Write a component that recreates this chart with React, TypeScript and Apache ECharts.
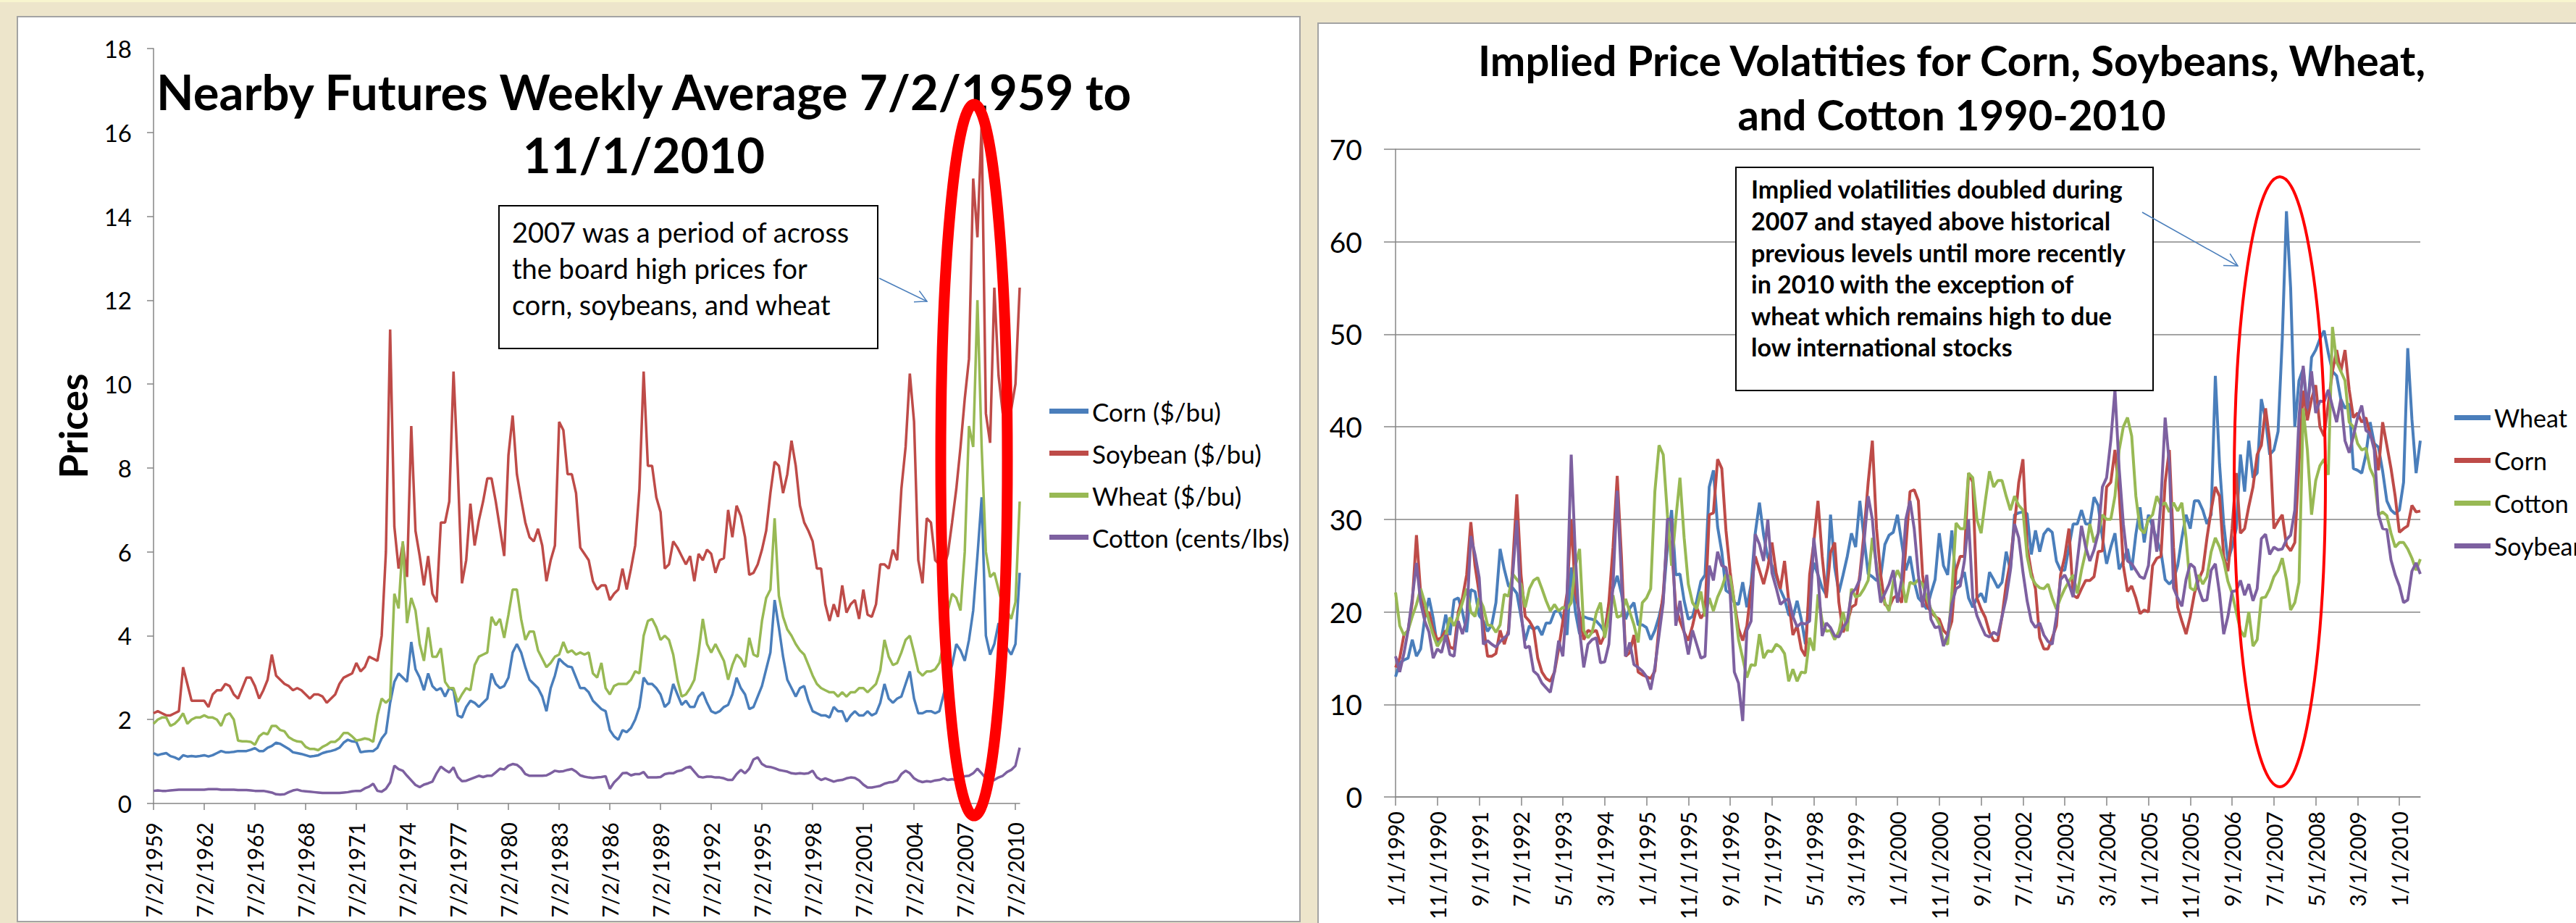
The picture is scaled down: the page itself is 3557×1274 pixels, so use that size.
import React, { useEffect, useRef } from "react";
import * as echarts from "echarts";

const FONT = "Lato";

// ---------- Left chart: nearby futures, quarterly readings from 7/2/1959 ----------
const futTickYears = [1959, 1962, 1965, 1968, 1971, 1974, 1977, 1980, 1983, 1986, 1989, 1992, 1995, 1998, 2001, 2004, 2007, 2010];

const futCorn = [
  1.2, 1.15, 1.18, 1.2, 1.13, 1.1, 1.05, 1.15, 1.12, 1.13,
  1.12, 1.13, 1.15, 1.12, 1.15, 1.2, 1.25, 1.22, 1.22, 1.23,
  1.25, 1.25, 1.25, 1.28, 1.32, 1.25, 1.25, 1.33, 1.37, 1.45,
  1.42, 1.36, 1.3, 1.22, 1.2, 1.18, 1.15, 1.12, 1.13, 1.15,
  1.2, 1.23, 1.25, 1.28, 1.33, 1.45, 1.52, 1.48, 1.47, 1.22,
  1.24, 1.25, 1.25, 1.33, 1.55, 1.68, 2.4, 2.9, 3.1, 3.0,
  2.9, 3.85, 3.2, 3.0, 2.7, 3.1, 2.8, 2.7, 2.75, 2.55,
  2.75, 2.7, 2.1, 2.05, 2.3, 2.45, 2.4, 2.3, 2.4, 2.5,
  3.1, 2.85, 2.75, 2.8, 3.0, 3.6, 3.8, 3.6, 3.25, 2.95,
  2.85, 2.75, 2.55, 2.2, 2.75, 3.05, 3.45, 3.35, 3.27, 3.25,
  3.0, 2.75, 2.75, 2.65, 2.45, 2.35, 2.25, 2.2, 1.75, 1.6,
  1.52, 1.75, 1.7, 1.8, 2.0, 2.3, 3.0, 2.85, 2.85, 2.75,
  2.6, 2.3, 2.4, 2.85, 2.6, 2.35, 2.45, 2.3, 2.3, 2.55,
  2.65, 2.4, 2.2, 2.15, 2.2, 2.3, 2.35, 2.6, 3.0, 2.75,
  2.6, 2.25, 2.3, 2.55, 2.8, 3.2, 3.6, 4.85, 4.2, 3.5,
  2.95, 2.75, 2.55, 2.75, 2.8, 2.45, 2.2, 2.15, 2.1, 2.1,
  2.05, 2.3, 2.2, 2.2, 1.95, 2.1, 2.2, 2.1, 2.1, 2.2,
  2.1, 2.15, 2.4, 2.85, 2.5, 2.4, 2.5, 2.55, 2.85, 3.15,
  2.5, 2.15, 2.15, 2.2, 2.2, 2.15, 2.2, 2.6, 3.0, 3.3,
  3.8, 3.65, 3.4, 3.9, 4.6, 5.9, 7.3, 4.0, 3.55, 3.8,
  4.3, 3.9, 3.7, 3.55, 3.8, 5.5,
];

const futSoy = [
  2.15, 2.2, 2.15, 2.1, 2.1, 2.15, 2.2, 3.25, 2.85, 2.45,
  2.45, 2.45, 2.45, 2.3, 2.6, 2.7, 2.7, 2.85, 2.8, 2.6,
  2.5, 2.75, 3.0, 3.0, 2.8, 2.5, 2.7, 2.95, 3.55, 3.05,
  2.95, 2.85, 2.8, 2.7, 2.75, 2.7, 2.6, 2.5, 2.6, 2.6,
  2.55, 2.4, 2.5, 2.6, 2.85, 3.0, 3.05, 3.1, 3.35, 3.15,
  3.25, 3.5, 3.45, 3.4, 4.0, 6.0, 11.3, 6.6, 5.6, 6.2,
  5.4, 9.0, 6.5, 5.9, 5.2, 5.9, 5.0, 4.8, 6.7, 6.7,
  7.2, 10.3, 8.0, 5.25, 5.8, 7.15, 6.15, 6.75, 7.2, 7.75,
  7.75, 7.2, 6.55, 5.9, 8.3, 9.25, 7.85, 7.25, 6.7, 6.35,
  6.25, 6.55, 6.15, 5.3, 5.8, 6.15, 9.1, 8.9, 7.85, 7.85,
  7.4, 6.1, 5.95, 5.8, 5.3, 5.1, 5.2, 5.2, 4.85, 5.0,
  5.1, 5.6, 5.1, 5.6, 6.15, 7.5, 10.3, 8.05, 8.05, 7.3,
  6.95, 5.6, 5.7, 6.25, 6.1, 5.9, 5.7, 5.9, 5.3, 5.95,
  5.8, 6.05, 5.95, 5.5, 5.8, 5.85, 7.0, 6.35, 7.1, 6.85,
  6.35, 5.45, 5.5, 5.7, 6.05, 6.5, 7.4, 8.15, 8.05, 7.4,
  7.85, 8.65, 8.05, 7.1, 6.7, 6.5, 6.25, 5.6, 5.6, 4.75,
  4.35, 4.75, 4.45, 5.2, 4.55, 4.75, 4.85, 4.4, 5.1, 4.5,
  4.45, 4.75, 5.7, 5.7, 5.6, 6.05, 5.8, 7.5, 8.5, 10.25,
  9.1, 5.8, 5.25, 6.8, 6.7, 5.8, 5.7, 5.6, 5.95, 6.7,
  7.5, 8.5, 9.65, 10.6, 14.9, 13.5, 16.2, 9.3, 8.6, 12.3,
  10.2, 9.3, 9.6, 9.4, 10.0, 12.3,
];

const futWheat = [
  1.9, 2.0, 2.05, 2.05, 1.85, 1.9, 2.0, 2.15, 1.9, 2.0,
  2.05, 2.05, 2.1, 2.05, 2.05, 2.0, 1.85, 2.1, 2.15, 2.0,
  1.5, 1.48, 1.48, 1.47, 1.4, 1.6, 1.68, 1.65, 1.85, 1.85,
  1.75, 1.72, 1.58, 1.52, 1.48, 1.47, 1.35, 1.3, 1.3, 1.27,
  1.35, 1.4, 1.47, 1.47, 1.55, 1.68, 1.68, 1.6, 1.5, 1.52,
  1.55, 1.53, 1.47, 2.1, 2.5, 2.4, 2.5, 5.0, 4.65, 6.25,
  4.3, 4.9, 4.6, 3.8, 3.4, 4.2, 3.5, 3.5, 3.7, 2.9,
  2.75, 2.75, 2.42, 2.6, 2.75, 2.7, 3.3, 3.5, 3.55, 3.6,
  4.45, 4.25, 4.4, 3.95, 4.5, 5.1, 5.1, 4.4, 3.9, 4.1,
  4.1, 3.65, 3.45, 3.25, 3.35, 3.5, 3.55, 3.85, 3.6, 3.65,
  3.55, 3.6, 3.55, 3.6, 3.1, 3.0, 3.35, 2.75, 2.6, 2.8,
  2.85, 2.85, 2.85, 2.95, 3.15, 3.1, 4.0, 4.35, 4.4, 4.2,
  3.9, 4.0, 3.9, 3.55, 2.95, 2.55, 2.6, 2.75, 2.95, 3.6,
  4.4, 3.8, 3.6, 3.8, 3.6, 3.4, 2.95, 3.3, 3.55, 3.45,
  3.25, 3.95, 3.55, 3.5, 4.35, 4.9, 5.1, 6.8, 4.95, 4.45,
  4.15, 4.0, 3.8, 3.65, 3.55, 3.3, 3.05, 2.85, 2.75, 2.7,
  2.65, 2.65, 2.55, 2.65, 2.55, 2.65, 2.65, 2.75, 2.75, 2.65,
  2.75, 2.85, 3.17, 3.9, 3.5, 3.3, 3.35, 3.6, 3.9, 4.0,
  3.6, 3.15, 3.05, 3.15, 3.15, 3.2, 3.35, 3.8, 4.6, 5.0,
  4.9, 4.6, 6.0, 9.0, 8.5, 12.0, 8.5, 6.0, 5.4, 5.5,
  5.1, 4.7, 4.6, 4.4, 4.8, 7.2,
];

const futCotton = [
  0.3, 0.31, 0.3, 0.3, 0.31, 0.32, 0.33, 0.33, 0.33, 0.33,
  0.33, 0.33, 0.33, 0.34, 0.34, 0.34, 0.33, 0.33, 0.33, 0.33,
  0.32, 0.32, 0.32, 0.31, 0.3, 0.3, 0.3, 0.28, 0.26, 0.22,
  0.21, 0.22, 0.27, 0.31, 0.33, 0.3, 0.29, 0.28, 0.27, 0.26,
  0.25, 0.25, 0.25, 0.25, 0.25, 0.26, 0.27, 0.29, 0.3, 0.3,
  0.36, 0.4, 0.47, 0.3, 0.28, 0.35, 0.5, 0.9, 0.82, 0.78,
  0.66, 0.55, 0.44, 0.39, 0.45, 0.48, 0.52, 0.72, 0.88, 0.8,
  0.74, 0.86, 0.63, 0.53, 0.54, 0.58, 0.62, 0.66, 0.63, 0.66,
  0.66, 0.74, 0.83, 0.81, 0.9, 0.94, 0.92, 0.84, 0.7, 0.66,
  0.66, 0.66, 0.66, 0.67, 0.72, 0.78, 0.76, 0.77, 0.8, 0.82,
  0.76, 0.67, 0.64, 0.62, 0.61, 0.62, 0.63, 0.65, 0.35, 0.5,
  0.6, 0.72, 0.73, 0.67, 0.7, 0.7, 0.75, 0.62, 0.62, 0.62,
  0.63, 0.7, 0.72, 0.72, 0.77, 0.79, 0.85, 0.88, 0.76, 0.64,
  0.62, 0.64, 0.64, 0.62, 0.62, 0.6, 0.56, 0.56, 0.7, 0.8,
  0.72, 0.83, 1.05, 1.1, 0.94, 0.88, 0.87, 0.84, 0.8, 0.78,
  0.76, 0.72, 0.71, 0.72, 0.71, 0.72, 0.78, 0.62, 0.56, 0.6,
  0.56, 0.52, 0.55, 0.56, 0.6, 0.62, 0.61, 0.55, 0.45, 0.38,
  0.38, 0.4, 0.42, 0.47, 0.5, 0.51, 0.55, 0.7, 0.78, 0.72,
  0.6, 0.54, 0.51, 0.53, 0.52, 0.55, 0.56, 0.6, 0.56, 0.58,
  0.55, 0.6, 0.65, 0.66, 0.72, 0.83, 0.72, 0.6, 0.52, 0.56,
  0.62, 0.66, 0.75, 0.8, 0.9, 1.33,
];

// ---------- Right chart: monthly implied volatilities from 1/1/1990 ----------
const volWheat = [
  13, 14.5, 14.8, 15, 17, 15.2, 16, 19.4, 21.5, 19.3,
  16.3, 17.3, 19.7, 17.5, 21.3, 21.5, 20, 17.8, 22.4, 22.2,
  19.6, 19, 17.9, 18.6, 21, 26.8, 24.6, 22.8, 22.6, 22,
  19.5, 16.9, 18.5, 18.1, 18.4, 17.5, 18.8, 18.8, 20, 20.2,
  19.2, 17.5, 24.8, 20, 17.6, 19.5, 19.3, 19.2, 19, 18.5,
  17.8, 20.8, 22.5, 23.9, 22, 19.2, 20.4, 21, 18.6, 18.6,
  18.3, 17, 18, 19.5, 21.5, 27, 31, 24, 24.1, 21.2,
  19.2, 19.5, 21.2, 23.3, 24, 33.5, 35.3, 29.2, 26.5, 22.3,
  22, 21, 20.8, 23.2, 20.5, 23, 28.5, 31.8, 28.3, 25.9,
  25, 23.8, 22.4, 21.4, 19.7, 19.4, 21.2, 19.2, 16.5, 22.5,
  25.3, 24, 22.6, 21.8, 30.5, 24.8, 22.1, 24, 26, 28.5,
  27, 32, 28, 24.1, 23.8, 23.4, 23.8, 27.3, 28.3, 28.6,
  30.5, 27.5, 24.5, 26, 23.3, 21.5, 21, 20.3, 22, 23.5,
  28.5, 25, 24, 28.8, 23, 23.4, 24.3, 21.5, 20.5, 21.5,
  22, 21, 24.3, 23.5, 22.6, 23.2, 26.5, 24.5, 30.5, 30.7,
  30.8, 30.6, 26.2, 28.8, 26.5, 28.4, 29, 28.6, 25.5, 24.5,
  24.5, 27, 29.5, 29.5, 31, 29.5, 29.5, 32.4, 31.5, 28,
  25.2, 27, 28.5, 24.6, 25.5, 26.8, 24.5, 28.4, 31.3, 27.5,
  30.5, 29.2, 27.8, 26.5, 23.5, 23, 23.5, 25, 28, 30.5,
  29, 32, 32, 31, 29.5, 30.5, 45.5, 36, 29.5, 25.5,
  27, 29, 37, 33, 38.5, 34.5, 35, 43, 40.8, 37,
  37.5, 39.5, 49.5, 63.3, 55, 40, 45, 46.3, 41.5, 47.5,
  48.3, 49.5, 50.4, 48, 46, 45.5, 43, 42, 42.5, 35.5,
  35.3, 35, 37, 40.5, 38.2, 37.8, 35.2, 32, 31, 30.6,
  31, 34, 48.5, 40.8, 35, 38.5,
];

const volCorn = [
  14, 15, 17.5, 18, 21, 28.3, 22, 19.5, 20, 18,
  17, 17.2, 18, 16.2, 16, 20, 21.5, 24, 29.7, 25,
  22, 18.5, 15.2, 15.2, 15.5, 18, 16.5, 18, 25, 32.7,
  24, 19.5, 19, 18.2, 15, 13.5, 12.8, 12.5, 13.5, 16,
  19, 22, 30, 22, 19.8, 17, 18, 17.8, 18, 16.5,
  17.5, 21, 27, 34.7, 26, 15.2, 15.6, 17.5, 13.5, 13.2,
  13, 12.8, 13.6, 18.5, 22, 28.5, 27, 20.5, 19, 17.8,
  16.9, 18.5, 20.5, 19.3, 20, 30.5, 30.7, 36.5, 35.5, 28.8,
  24.3, 21, 18.2, 16.9, 18.5, 22.5, 26, 24.5, 23, 24.8,
  27.5, 24.2, 22.5, 25.5, 21.2, 17.5, 18.5, 16, 15.2, 24,
  27.5, 32, 26, 21.5, 26.4, 27.5, 21, 17.8, 18.8, 20.5,
  20.8, 24, 28.5, 34, 38.5, 29, 24, 20.8, 20.5, 21.5,
  21.8, 21, 27, 33, 33.2, 32, 24, 20.7, 20, 19.5,
  19.2, 18, 17.5, 19, 24.5, 26, 26, 35, 34, 21.5,
  20.3, 19.4, 17.8, 16.9, 16.9, 19.5, 23, 25.5, 29.5, 34,
  36.5, 27, 24.3, 22.5, 17.2, 16, 16, 17.2, 18.5, 24,
  26, 29, 21.8, 21.5, 22.5, 23.4, 23.4, 23.8, 26.5, 26.6,
  33.5, 34, 37.5, 33, 25, 22.2, 22.8, 21.5, 19.8, 20.2,
  20, 25, 25.8, 26, 34, 37.5, 27, 20.5, 19, 17.6,
  19.5, 22, 23.5, 24.5, 28, 31, 33.5, 32.5, 26, 24.4,
  29, 35, 28.5, 29, 31.4, 33.5, 37, 38, 42, 38.5,
  29, 29.8, 30.5, 27.2, 26.6, 27.5, 36, 43.9, 40.7, 43,
  44.5, 40, 39, 42.5, 46, 48.3, 46, 48.3, 44, 41,
  41.5, 40.5, 41, 39.2, 38, 35.3, 40.5, 38, 35.5, 32.5,
  28.6, 29, 29.3, 31.5, 30.8, 30.9,
];

const volCotton = [
  22.1, 18.5, 17.5, 18, 19.5, 20.8, 22.5, 21, 19, 17.5,
  16.3, 17, 17.5, 19.4, 18.5, 19.6, 21, 22.5, 20, 19.5,
  21.5, 20.5, 18.6, 18.5, 17.8, 18.6, 21.9, 21.7, 24.1, 23.5,
  23, 20.5, 22.5, 23.4, 23.7, 22.5, 21.2, 20.1, 20.8, 20.1,
  20.5, 20.3, 21, 25, 26.8, 18, 17.2, 17.8, 19.9, 21,
  17.2, 19.5, 21.8, 19.4, 19.6, 21.4, 20, 18.6, 16.7, 21,
  21.5, 22.5, 33, 38, 37, 30.5, 25, 30, 34.5, 28,
  23, 21, 20.3, 22.2, 19.5, 21.5, 20.1, 21.6, 22.6, 24,
  23.8, 21, 17, 15, 12.9, 14.3, 14.2, 17.6, 15, 15.8,
  15.7, 16.5, 16.2, 15.5, 12.5, 13.8, 12.5, 13.5, 13.4, 17.2,
  15.8, 21.9, 19, 17.9, 18, 17, 17.9, 20, 17.9, 22.5,
  21.6, 21.8, 22.5, 23.4, 28, 25, 22, 21, 20.1, 23.3,
  24.5, 23.5, 21, 23.2, 23, 23.5, 23, 21.5, 20.3, 19.6,
  18.7, 16.8, 16.5, 22, 29.6, 29, 29, 35, 34.5, 30,
  28.5, 32, 35.2, 33.5, 34.2, 34.2, 32.5, 31, 32.5, 31.5,
  31, 26, 23.8, 23, 22.6, 22.5, 23, 21.5, 20.3, 21.5,
  22.5, 23.3, 24, 22, 24.5, 26.5, 29.5, 27.5, 28.5, 30.5,
  30, 30, 32.5, 37.5, 40, 41, 39, 32.5, 29, 28.5,
  30, 30.5, 32.5, 31.5, 31.8, 30.8, 31.8, 30.9, 31.8, 28,
  22.6, 22.3, 24, 23, 23.8, 26.5, 28, 27, 25.5, 23.3,
  22, 20, 18, 17.3, 20, 16.3, 17, 21.5, 21.6, 22.5,
  23.8, 24.5, 25.8, 23.5, 20.2, 21, 23.2, 42, 37.5, 30.5,
  34.2, 35.8, 36.5, 34.8, 50.8, 47, 46, 45, 40.5, 40,
  38.2, 37.5, 37.7, 35.5, 34.5, 30.5, 30.8, 30.4, 28.5, 27,
  27.5, 27.5, 26.8, 25.8, 24.5, 25.7,
];

const volSoy = [
  15.2, 13.5, 15.5, 18, 21.5, 25.3, 21, 19, 17.8, 15,
  16, 15.6, 17.5, 15.4, 15.2, 19, 17.6, 19.2, 28.2, 26.2,
  23.7, 16.5, 16.9, 16.5, 16.2, 16.8, 17.2, 17.6, 24, 29.9,
  20, 16.1, 16.3, 13.6, 13.2, 12.3, 11.8, 11.3, 13.6, 16.9,
  15.2, 21.5, 37, 26, 18, 14, 16.5, 17, 17.2, 14.5,
  14.6, 16.5, 23, 33.1, 23.7, 15.2, 16.7, 14.3, 14, 13.6,
  13, 11.6, 14, 17.5, 21, 30, 30, 18.5, 21.2, 17.8,
  15.4, 18, 16.5, 15, 15.2, 25, 23.4, 26.5, 25, 24.8,
  22, 13.5, 12.3, 8.2, 18, 19, 28.4, 27.3, 25.5, 30,
  24.2, 22.6, 20.8, 21.2, 21.4, 19.5, 18.4, 18.8, 18.7, 19,
  28, 24, 17.4, 18.8, 18.3, 17.4, 17.3, 18.3, 19, 22,
  22.5, 23.5, 27.5, 32.5, 30, 24.5, 21, 22, 23, 24.5,
  21, 23.5, 30, 32, 29, 24, 20.5, 24, 19.2, 18.3,
  18.4, 16.3, 17.5, 20.8, 22.5, 22.8, 25.5, 30, 21.5, 19.6,
  18.5, 17.5, 17.3, 17.8, 17.5, 19.5, 21.5, 24.5, 29.5, 28,
  24.3, 21.2, 19, 18.3, 18.8, 17.5, 16.8, 16.5, 19.5, 23.5,
  24, 23, 21.6, 25.5, 29.3, 27, 25.5, 26.7, 28.5, 33.5,
  34.5, 38.5, 44, 35.5, 29.5, 25.5, 25.2, 24.5, 23.8, 23.6,
  25, 30, 26.5, 32, 41, 36, 22.6, 21.5, 20.6, 23.5,
  25.2, 24.8, 22.5, 21.2, 21.3, 24.5, 25.2, 22, 17.6, 19.5,
  22.2, 22.3, 23.4, 21.8, 23, 21.2, 22.5, 27.9, 28.4, 26.2,
  27, 26.7, 26.8, 27.8, 28.3, 31, 41, 46.6, 42, 46,
  41.5, 42.8, 42.7, 44, 42.2, 40.5, 43, 38.5, 37.2, 39,
  41, 42.3, 39.6, 39.3, 37.5, 30.5, 29, 28.9, 25.6, 24,
  22.8, 21, 21.3, 24.4, 25.3, 24.1,
];

const leftTitle = "Nearby Futures Weekly Average 7/2/1959 to\n11/1/2010";
const rightTitle = "Implied Price Volatities for Corn, Soybeans, Wheat,\nand Cotton 1990-2010";
const leftNote = ["2007 was a period of across", "the board high prices for", "corn, soybeans, and wheat"];
const rightNote = [
  "Implied volatilities doubled during",
  "2007 and stayed above historical",
  "previous levels until more recently",
  "in 2010 with the exception of",
  "wheat which remains high to due",
  "low international stocks",
];

const C_BLUE = "#4A7EBB";
const C_RED = "#BE4B48";
const C_GREEN = "#98B954";
const C_PURPLE = "#7D60A0";
const AXIS_GRAY = "#868686";

function arrowHead(x1: number, y1: number, x2: number, y2: number, len: number) {
  const dx = x2 - x1, dy = y2 - y1;
  const d = Math.sqrt(dx * dx + dy * dy);
  const ux = dx / d, uy = dy / d;
  const a = (28 * Math.PI) / 180;
  const c = Math.cos(a), s = Math.sin(a);
  const p1 = [x2 - len * (ux * c - uy * s), y2 - len * (uy * c + ux * s)];
  const p2 = [x2 - len * (ux * c + uy * s), y2 - len * (uy * c - ux * s)];
  return [p1, [x2, y2], p2];
}

function buildOption() {
  const futT = futCorn.map((_, i) => i * 0.25);
  const pairs = (arr: number[]) => arr.map((v, i) => [futT[i], v]);
  const futTickOffsets = futTickYears.map((y) => y - 1959);
  const volMonths = volWheat.map((_, m) => `${(m % 12) + 1}/1/${1990 + Math.floor(m / 12)}`);

  const lineL = (name: string, color: string, arr: number[]) => ({
    name, type: "line", xAxisIndex: 0, yAxisIndex: 0, data: pairs(arr),
    showSymbol: false, symbol: "none", color,
    lineStyle: { color, width: 3.5 }, z: 2,
  });
  const lineR = (name: string, color: string, arr: number[]) => ({
    name, type: "line", xAxisIndex: 1, yAxisIndex: 1, data: arr,
    showSymbol: false, symbol: "none", color,
    lineStyle: { color, width: 4 }, z: 2,
  });

  const la = { x1: 1214, y1: 384, x2: 1280, y2: 416 };
  const ra = { x1: 2958, y1: 293, x2: 3090, y2: 367 };

  return {
    animation: false,
    backgroundColor: "transparent",
    textStyle: { fontFamily: FONT },
    grid: [
      { left: 212, top: 67, width: 1196, height: 1042 },
      { left: 1927, top: 206, width: 1415, height: 894 },
    ],
    xAxis: [
      {
        type: "value", gridIndex: 0, min: 0, max: 51.25, interval: 3,
        axisLine: { show: true, onZero: true, lineStyle: { color: AXIS_GRAY, width: 1.5 } },
        axisTick: { show: true, length: 9, customValues: futTickOffsets, lineStyle: { color: AXIS_GRAY, width: 1.5 } },
        splitLine: { show: false },
        axisLabel: {
          rotate: 90, fontSize: 30, color: "#000", margin: 26, fontFamily: FONT,
          customValues: futTickOffsets, showMaxLabel: true, showMinLabel: true,
          formatter: (v: number) => `7/2/${1959 + Math.round(v)}`,
        },
      },
      {
        type: "category", gridIndex: 1, data: volMonths, boundaryGap: false,
        axisLine: { show: true, lineStyle: { color: AXIS_GRAY, width: 1.5 } },
        axisTick: { show: true, interval: 9, length: 12, alignWithLabel: true, lineStyle: { color: AXIS_GRAY, width: 1.5 } },
        splitLine: { show: false },
        axisLabel: { interval: 9, rotate: 90, fontSize: 30, color: "#000", margin: 20, fontFamily: FONT },
      },
    ],
    yAxis: [
      {
        type: "value", gridIndex: 0, min: 0, max: 18, interval: 2,
        axisLine: { show: true, lineStyle: { color: AXIS_GRAY, width: 1.5 } },
        axisTick: { show: true, length: 9, lineStyle: { color: AXIS_GRAY, width: 1.5 } },
        splitLine: { show: false },
        axisLabel: { fontSize: 33, color: "#000", margin: 30, fontFamily: FONT },
      },
      {
        type: "value", gridIndex: 1, min: 0, max: 70, interval: 10,
        axisLine: { show: true, lineStyle: { color: AXIS_GRAY, width: 1.5 } },
        axisTick: { show: true, length: 16, lineStyle: { color: AXIS_GRAY, width: 1.5 } },
        splitLine: { show: true, lineStyle: { color: AXIS_GRAY, width: 1.5 } },
        axisLabel: { fontSize: 39, color: "#000", margin: 46, fontFamily: FONT },
      },
    ],
    legend: [
      {
        data: ["Corn ($/bu)", "Soybean ($/bu)", "Wheat ($/bu)", "Cotton (cents/lbs)"],
        orient: "vertical", left: 1444, top: 544, icon: "rect",
        itemWidth: 54, itemHeight: 7, itemGap: 21, selectedMode: false,
        textStyle: { fontSize: 35, lineHeight: 37, color: "#000", fontFamily: FONT },
      },
      {
        data: ["Wheat", "Corn", "Cotton", "Soybean"],
        orient: "vertical", left: 3384, top: 553, icon: "rect",
        itemWidth: 50, itemHeight: 7, itemGap: 22, selectedMode: false,
        textStyle: { fontSize: 34, lineHeight: 37, color: "#000", fontFamily: FONT },
      },
    ],
    series: [
      lineL("Corn ($/bu)", C_BLUE, futCorn),
      lineL("Soybean ($/bu)", C_RED, futSoy),
      lineL("Wheat ($/bu)", C_GREEN, futWheat),
      lineL("Cotton (cents/lbs)", C_PURPLE, futCotton),
      lineR("Wheat", C_BLUE, volWheat),
      lineR("Corn", C_RED, volCorn),
      lineR("Cotton", C_GREEN, volCotton),
      lineR("Soybean", C_PURPLE, volSoy),
    ],
    graphic: [
      {
        type: "text", z: 100, silent: true,
        style: { text: leftTitle, x: 889, y: 82, align: "center", verticalAlign: "top", font: `bold 67px ${FONT}`, lineHeight: 87, fill: "#000" },
      },
      {
        type: "text", z: 100, silent: true,
        style: { text: rightTitle, x: 2695, y: 45, align: "center", verticalAlign: "top", font: `bold 58px ${FONT}`, lineHeight: 75, fill: "#000" },
      },
      {
        type: "text", z: 100, silent: true, x: 100, y: 588, rotation: Math.PI / 2,
        style: { text: "Prices", x: 0, y: 0, align: "center", verticalAlign: "middle", font: `bold 54px ${FONT}`, fill: "#000" },
      },
      {
        type: "rect", z: 100, silent: true,
        shape: { x: 689, y: 284, width: 523, height: 197 },
        style: { fill: "#fff", stroke: "#000", lineWidth: 2 },
      },
      {
        type: "text", z: 101, silent: true,
        style: { text: leftNote.join("\n"), x: 707, y: 295, align: "left", verticalAlign: "top", font: `38px ${FONT}`, lineHeight: 50, fill: "#000" },
      },
      {
        type: "line", z: 100, silent: true,
        shape: la, style: { stroke: C_BLUE, lineWidth: 1.5 },
      },
      {
        type: "polyline", z: 100, silent: true,
        shape: { points: arrowHead(la.x1, la.y1, la.x2, la.y2, 18) },
        style: { stroke: C_BLUE, lineWidth: 1.5, fill: "none" },
      },
      {
        type: "rect", z: 100, silent: true,
        shape: { x: 2397, y: 231, width: 576, height: 308 },
        style: { fill: "#fff", stroke: "#000", lineWidth: 2 },
      },
      {
        type: "text", z: 101, silent: true,
        style: { text: rightNote.join("\n"), x: 2418, y: 239, align: "left", verticalAlign: "top", font: `bold 34px ${FONT}`, lineHeight: 43.6, fill: "#000" },
      },
      {
        type: "line", z: 100, silent: true,
        shape: ra, style: { stroke: C_BLUE, lineWidth: 1.5 },
      },
      {
        type: "polyline", z: 100, silent: true,
        shape: { points: arrowHead(ra.x1, ra.y1, ra.x2, ra.y2, 20) },
        style: { stroke: C_BLUE, lineWidth: 1.5, fill: "none" },
      },
      {
        type: "ellipse", z: 110, silent: true,
        shape: { cx: 1345, cy: 635, rx: 46, ry: 491 },
        style: { fill: "none", stroke: "#FF0000", lineWidth: 15 },
      },
      {
        type: "ellipse", z: 110, silent: true,
        shape: { cx: 3148, cy: 665, rx: 63, ry: 421 },
        style: { fill: "none", stroke: "#FF0000", lineWidth: 4 },
      },
    ],
  };
}

export default function App() {
  const ref = useRef<HTMLDivElement>(null);
  useEffect(() => {
    if (!ref.current) return;
    const chart = echarts.init(ref.current, undefined, { renderer: "svg", width: 3557, height: 1274 });
    chart.setOption(buildOption() as any);
    return () => chart.dispose();
  }, []);
  return (
    <div style={{ position: "fixed", left: 0, top: 0, width: 3557, height: 1274, overflow: "hidden", background: "#EDE5CB" }}>
      <div style={{ position: "absolute", left: 0, top: 0, width: 3557, height: 3, background: "#F8F5CF" }} />
      <div style={{ position: "absolute", left: 23, top: 22, width: 1769, height: 1247, background: "#fff", border: "2px solid #A3A3A3" }} />
      <div style={{ position: "absolute", left: 1819, top: 31, width: 1800, height: 1300, background: "#fff", border: "2px solid #A3A3A3" }} />
      <div ref={ref} style={{ position: "absolute", left: 0, top: 0, width: 3557, height: 1274 }} />
    </div>
  );
}
